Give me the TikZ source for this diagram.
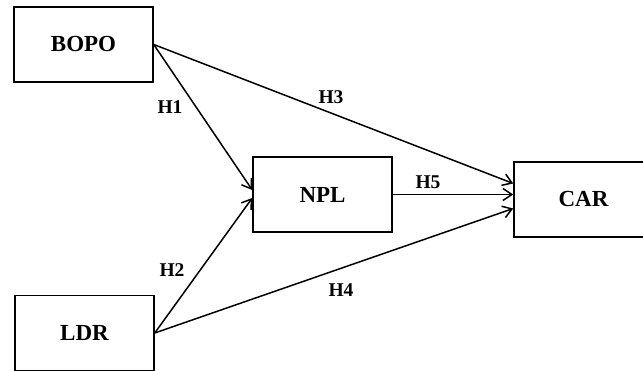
\documentclass[tikz,border=0pt]{standalone}
\usepackage{fontspec}
\setmainfont{Liberation Serif}
\usepackage{tikz}
\usetikzlibrary{arrows.meta,positioning}

\begin{document}
\begin{tikzpicture}[
    x=1pt, y=-1pt,
    box/.style={rectangle, draw, line width=1.5pt, minimum width=139pt, minimum height=75pt, font=\bfseries\fontsize{23}{23}\selectfont},
    arrow/.style={-{Straight Barb[length=9pt,width=12pt,line width=1.5pt]}, line width=1.5pt},
    hlabel/.style={font=\bfseries\fontsize{19.5}{19.5}\selectfont, inner sep=0pt}
]
    \useasboundingbox (0,0) rectangle (643,371);

    \node[box] (bopo) at (83.5,44.5) {BOPO};
    \node[box] (ldr) at (84.5,333) {LDR};
    \node[box] (npl) at (322.5,194.5) {NPL};
    \node[box] (car) at (583.5,199.5) {CAR}; % right side runs off the page

    \draw[arrow] (bopo.east) -- ([yshift=16pt]car.west);
    \draw[arrow] (bopo.east) -- ([yshift=4.5pt]npl.west);
    \draw[arrow] (ldr.east) -- ([yshift=-3.5pt]npl.west);
    \draw[arrow] (npl.east) -- (npl.east -| car.west);
    \draw[arrow] (ldr.east) -- ([yshift=-9pt]car.west);

    \node[hlabel] (h1) at (170,107) {H1};
    \node[hlabel] (h2) at (172,270) {H2};
    \node[hlabel] (h3) at (331,97) {H3};
    \node[hlabel] (h4) at (341,290) {H4};
    \node[hlabel] (h5) at (428,182) {H5};
\end{tikzpicture}
\end{document}
